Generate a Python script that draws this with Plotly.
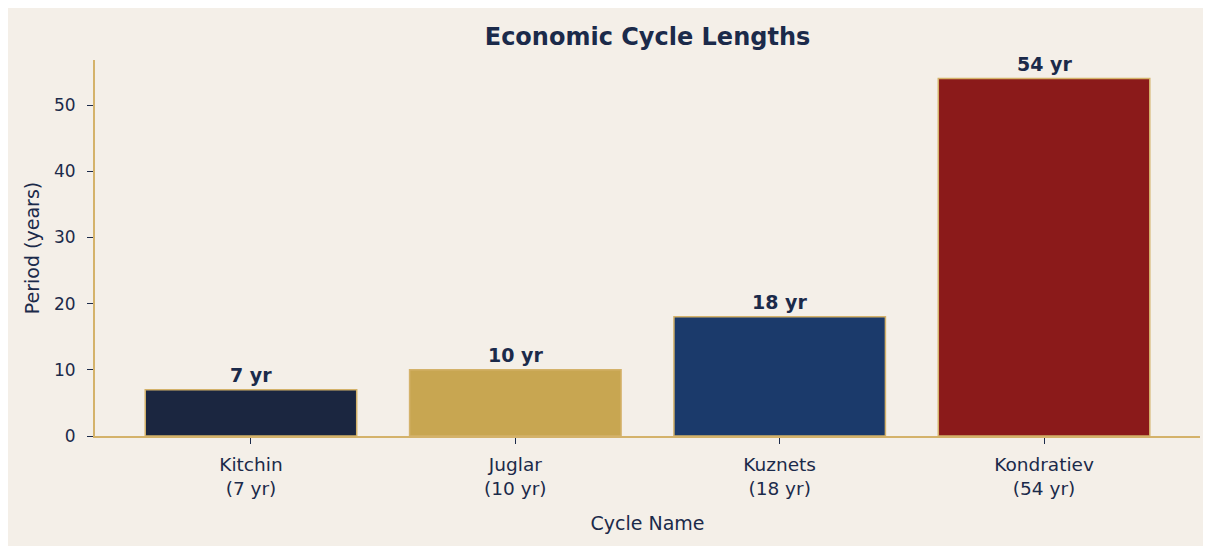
import plotly.graph_objects as go

categories = ["Kitchin", "Juglar", "Kuznets", "Kondratiev"]
periods = [7, 10, 18, 54]
bar_colors = ["#1b2640", "#c8a651", "#1b3a6b", "#8b1a1a"]
tick_text = [f"{c}<br>({p} yr)" for c, p in zip(categories, periods)]
bar_labels = [f"{p} yr" for p in periods]

BG = "#f4efe8"
GOLD = "#d4b26a"
NAVY = "#1b2a4a"
FONT = "DejaVu Sans"

W, H = 1219, 546
L, R, T, B = 87, 27, 52, 118
pw = W - L - R

fig = go.Figure()
fig.add_trace(go.Bar(
    x=list(range(len(categories))), y=periods, width=0.8,
    marker=dict(color=bar_colors, line=dict(color=GOLD, width=1.5)),
    showlegend=False, hoverinfo="skip",
))

for i, (p, lab) in enumerate(zip(periods, bar_labels)):
    fig.add_annotation(x=i, y=p, text=f"<b>{lab}</b>", showarrow=False,
                       yanchor="bottom", yshift=2,
                       font=dict(family=FONT, size=19, color=NAVY))

fig.update_layout(
    width=W, height=H,
    margin=dict(l=L, r=R, t=T, b=B),
    paper_bgcolor=BG, plot_bgcolor=BG,
    font=dict(family=FONT, color=NAVY),
    title=dict(text="<b>Economic Cycle Lengths</b>", x=(L + pw / 2) / W,
               xanchor="center", y=1 - 29 / H, yanchor="middle",
               font=dict(family=FONT, size=24, color=NAVY)),
    bargap=0.2,
)
fig.update_xaxes(
    range=[-0.59, 3.59], tickmode="array", tickvals=list(range(len(categories))),
    ticktext=tick_text, ticks="outside", ticklen=6, tickcolor=NAVY, tickwidth=1.2,
    ticklabelstandoff=5,
    showline=True, linecolor=GOLD, linewidth=2, showgrid=False, zeroline=False,
    tickfont=dict(family=FONT, size=18.5, color=NAVY),
    title=dict(text="Cycle Name", font=dict(family=FONT, size=19, color=NAVY), standoff=18),
)
fig.update_yaxes(
    range=[0, 56.8], tickmode="array", tickvals=[0, 10, 20, 30, 40, 50],
    ticks="outside", ticklen=6, tickcolor=NAVY, tickwidth=1.2,
    ticklabelstandoff=8,
    showline=True, linecolor=GOLD, linewidth=2, showgrid=False, zeroline=False,
    tickfont=dict(family=FONT, size=17, color=NAVY),
    title=dict(text="Period (years)", font=dict(family=FONT, size=19, color=NAVY), standoff=9),
)

fig.write_html("out.html")
